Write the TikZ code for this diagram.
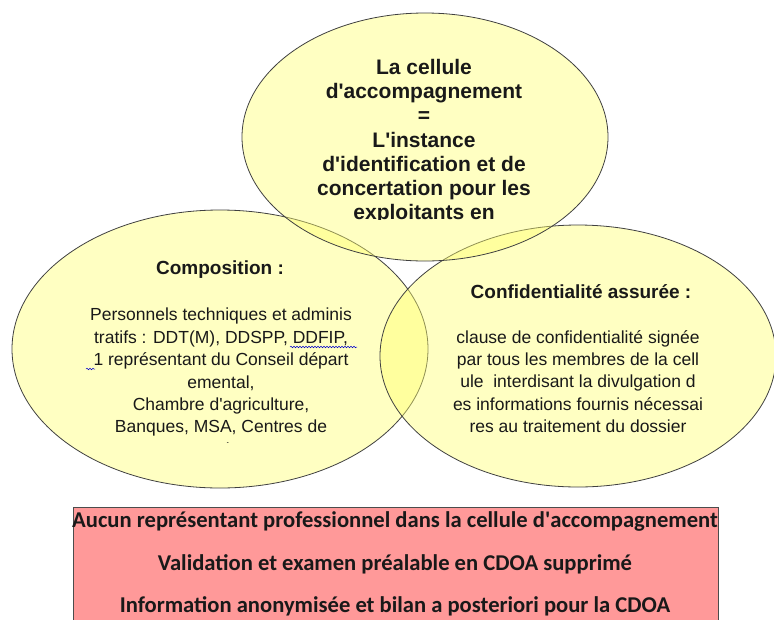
\documentclass[tikz,border=0pt]{standalone}
\usepackage{fontspec}
\setmainfont{Liberation Sans}
\newfontfamily\boxfont{Carlito}
\usetikzlibrary{decorations.pathmorphing}
\definecolor{ellfill}{RGB}{255,255,110}
\definecolor{boxfill}{RGB}{255,153,153}
\definecolor{ink}{RGB}{25,25,25}
\newcommand{\apos}{\textquotesingle}
\begin{document}
\begin{tikzpicture}[x=1pt,y=-1pt,
  ell/.style={draw=black!75, line width=0.8pt, fill=ellfill, fill opacity=0.42},
  title/.style={font=\bfseries\fontsize{21}{24.2}\selectfont, align=center, text=ink, inner sep=0pt, anchor=north},
  body/.style={font=\fontsize{17.5}{22.4}\selectfont, align=center, text=ink, inner sep=0pt, anchor=north},
  head/.style={font=\bfseries\fontsize{19}{22}\selectfont, text=ink, inner sep=0pt},
  boxtxt/.style={font=\boxfont\bfseries\fontsize{22.6}{24}\selectfont, text=ink, inner sep=0pt},
  squig/.style={draw=blue!80!black, line width=0.5pt, decorate, decoration={snake, amplitude=0.8pt, segment length=3pt}}]
\useasboundingbox (0,0) rectangle (774,619);
\fill[white] (0,0) rectangle (774,619);
% ellipses
\coordinate (ctop) at (425,137);
\coordinate (cleft) at (220,349);
\coordinate (cright) at (578,356);
\draw[ell] (cleft) ellipse [x radius=208, y radius=139];
\draw[ell] (cright) ellipse [x radius=198, y radius=131];
\draw[ell] (ctop) ellipse [x radius=183, y radius=124];
% top text
\begin{scope}
\clip (240,40) rectangle (610,219);
\node[title] (toptxt) at (424,59) {La cellule\\d\apos accompagnement\\=\\L\apos instance\\d\apos identification et de\\concertation pour les\\exploitants en};
\end{scope}
% left text
\node[head] (comp) at (220,270) {Composition :};
\begin{scope}
\clip (60,300) rectangle (380,442);
\node[body] (comptxt) at (221,308) {Personnels techniques et adminis\\tratifs : DDT(M), DDSPP, DDFIP,\\1 représentant du Conseil départ\\emental,\\Chambre d\apos agriculture,\\Banques, MSA, Centres de\\gestion};
\end{scope}
\coordinate (sq1a) at (290,347);
\coordinate (sq1b) at (357,347);
\coordinate (sq2a) at (86,369);
\coordinate (sq2b) at (95,369);
\path[squig] (sq1a) -- (sq1b);
\path[squig] (sq2a) -- (sq2b);
% right text
\node[head] (conf) at (581,292) {Confidentialité assurée :};
\node[body] (conftxt) at (578,330) {clause de confidentialité signée\\par tous les membres de la cell\\ule\ \ interdisant la divulgation d\\es informations fournis nécessai\\res au traitement du dossier};
% red box
\draw[draw=black!70, line width=0.8pt, fill=boxfill] (73,507) rectangle (718,640);
\node[boxtxt] (b1) at (395,521) {Aucun représentant professionnel dans la cellule d\apos accompagnement};
\node[boxtxt] (b2) at (395,564) {Validation et examen préalable en CDOA supprimé};
\node[boxtxt] (b3) at (395,606) {Information anonymisée et bilan a posteriori pour la CDOA};
\end{tikzpicture}
\end{document}
